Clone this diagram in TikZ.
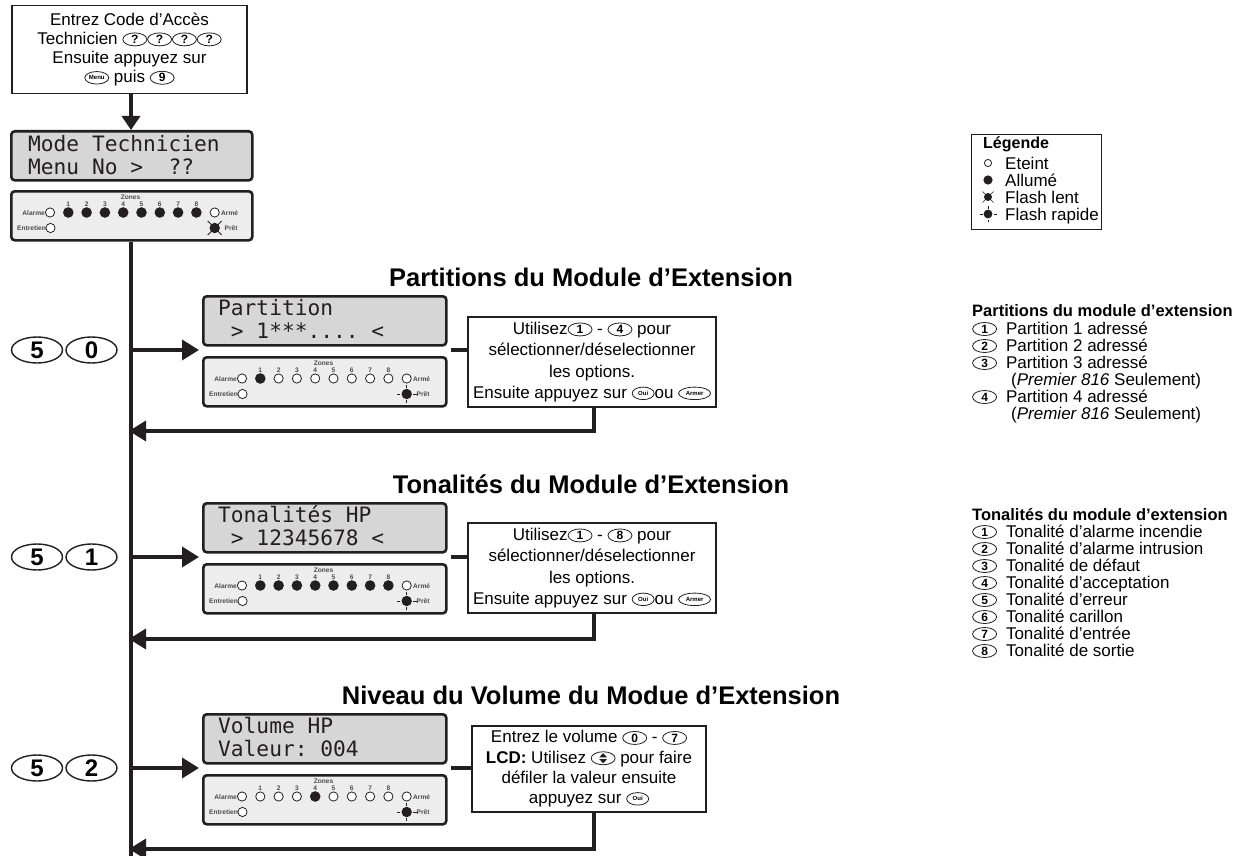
\documentclass[tikz,border=0pt]{standalone}
\usepackage{fontspec}
\setmainfont{Liberation Sans}
\newfontfamily\lcdfont{DejaVu Sans Mono}
\usetikzlibrary{arrows.meta,shapes.geometric,calc}
\definecolor{lcdgray}{HTML}{D6D6D6}
\definecolor{panelgray}{HTML}{EDEDED}
\definecolor{ink}{HTML}{231F20}
\newcommand{\fs}[2]{\fontsize{#1}{#2}\selectfont}
\newcommand{\kd}[1]{\tikz[baseline=-5pt]\node[anchor=center,draw=ink,line width=0.8pt,ellipse,minimum width=24pt,minimum height=13pt,inner sep=0pt,font=\fs{12}{12}\bfseries]{#1};}
\newcommand{\kt}[2]{\tikz[baseline=-5pt]\node[anchor=center,draw=ink,line width=0.8pt,ellipse,minimum width=#1,minimum height=12.5pt,inner sep=0pt,font=\fs{6}{6}\bfseries]{#2};}
\newcommand{\kud}{\tikz[baseline=-5pt]{\draw[ink,line width=0.8pt] (0,0) ellipse (12pt and 6.5pt);
  \fill[ink] (-4pt,0.8pt)--(4pt,0.8pt)--(0,5pt)--cycle; \fill[ink] (-4pt,-0.8pt)--(4pt,-0.8pt)--(0,-5pt)--cycle;}}
\newcommand{\flashlent}[2]{\fill[ink] (#1,#2) circle (5.2pt);
  \draw[ink,line width=0.8pt] (#1,#2) ++(-7pt,-7pt) -- ++(14pt,14pt) (#1,#2) ++(-7pt,7pt) -- ++(14pt,-14pt);}
\newcommand{\flashrap}[2]{\fill[ink] (#1,#2) circle (5.2pt);
  \draw[ink,line width=0.8pt] (#1,#2) ++(6.3pt,0) -- ++(3.5pt,0) (#1,#2) ++(-6.3pt,0) -- ++(-3.5pt,0)
   (#1,#2) ++(0,6.3pt) -- ++(0,3pt) (#1,#2) ++(0,-6.3pt) -- ++(0,-3pt);}
\newcommand{\ledpanel}[6]{%
  \node[panel,minimum width=#4pt,anchor=north west] (#1) at (#2,#3) {};
  \begin{scope}[shift={(#2,#3)}]
    \node[ledlbl] at (#4/2,7) {Zones};
    \node[ledlbl,anchor=east] at (35,23) {Alarme};
    \draw[ledoff] (40,22.5) circle (4.6pt);
    \foreach \i/\s in {#5}{%
      \node[ledlbl] at (40+18.3*\i,14) {\i};
      \ifnum\s=1 \fill[ink] (40+18.3*\i,22.5) circle (5.3pt);
      \else \draw[ledoff] (40+18.3*\i,22.5) circle (4.6pt);\fi
    }
    \draw[ledoff] (204.7,22.5) circle (4.6pt);
    \node[ledlbl,anchor=west] at (211,23) {Armé};
    \node[ledlbl,anchor=east] at (36,38.5) {Entretien};
    \draw[ledoff] (40.5,38) circle (4.6pt);
    #6{204.7}{38}
    \node[ledlbl,anchor=west] at (214.5,38.5) {Prêt};
  \end{scope}}
\begin{document}
\begin{tikzpicture}[x=1pt,y=-1pt,
  box/.style={draw=ink,line width=1.2pt,rectangle,inner sep=0pt,align=center,font=\fs{17}{21.3}},
  lcd/.style={draw=ink,line width=2.6pt,rounded corners=3.5pt,fill=lcdgray,minimum height=49pt,inner sep=0pt,anchor=north west},
  panel/.style={draw=ink,line width=2.6pt,rounded corners=3.5pt,fill=panelgray,minimum height=49pt,inner sep=0pt},
  lcdtxt/.style={font=\lcdfont\fs{21.2}{21},anchor=base west,inner sep=0pt,text=ink},
  ledlbl/.style={font=\fs{6.6}{7}\bfseries,text=black!70,inner sep=0pt},
  ledoff/.style={draw=ink,line width=0.8pt,fill=white},
  bigkey/.style={draw=ink,line width=1.4pt,ellipse,minimum width=51pt,minimum height=26pt,inner sep=0pt,font=\fs{24}{24}\bfseries},
  title/.style={font=\fs{25.5}{28}\bfseries,inner sep=0pt},
  fatline/.style={draw=ink,line width=3.6pt},
  arr/.style={fatline,-{Triangle[length=17pt,width=20pt]}},
  rtxt/.style={font=\fs{17}{17},anchor=base west,inner sep=0pt},
]
\fill[white] (0,0) rectangle (1242,856);
\useasboundingbox (0,0) rectangle (1242,856);
\coordinate (mx) at (131,0);

% top
\node[box,minimum width=235pt,minimum height=88pt,font=\fs{17}{19.2}] (top) at (129.5,49.5)
  {Entrez Code d’Accès\\Technicien \kd{?}\kd{?}\kd{?}\kd{?}\\Ensuite appuyez sur\\\kt{24pt}{Menu} puis \kd{9}};
\node[lcd,minimum width=241pt] (lcd0) at (10,130) {};
\node[lcdtxt] (l0a) at (28,152) {Mode~Technicien};
\node[lcdtxt] (l0b) at (28,174) {Menu~No~>~~??};
\ledpanel{led0}{10}{190}{241}{1/1,2/1,3/1,4/1,5/1,6/1,7/1,8/1}{\flashlent}
\draw[fatline,-{Triangle[length=14pt,width=18pt]}] (top.south -| mx) -- (lcd0.north -| mx);
\draw[fatline] (led0.south -| mx) -- (131,856);

% section 1
\node[title] (t1) at (591,277) {Partitions du Module d’Extension};
\node[lcd,minimum width=243pt] (lcd1) at (202,295) {};
\node[lcdtxt] (l1a) at (218,315) {Partition};
\node[lcdtxt] (l1b) at (218,338) {~>~1***....~<};
\ledpanel{led1}{202}{356}{243}{1/1,2/0,3/0,4/0,5/0,6/0,7/0,8/0}{\flashrap}
\node[bigkey] (k1a) at (37,350) {5};
\node[bigkey] (k1b) at (91.5,350) {0};
\coordinate (s1) at (131,350);
\draw[arr,shorten >=3pt] (s1) -- (s1 -| lcd1.west);
\node[box,minimum width=248pt,minimum height=90pt] (b1) at (592,362)
  {Utilisez\kd{1} - \kd{4} pour\\sélectionner/déselectionner\\les options.\\Ensuite appuyez sur \kt{22pt}{Oui}ou \kt{32pt}{Armer}};
\draw[fatline] ([xshift=3pt]lcd1.east |- s1) -- (b1.west |- s1);
\coordinate (r1) at (594,431);
\draw[arr,shorten >=-2pt] (b1.south -| r1) -- (r1) -- (r1 -| mx);

% section 2
\node[title] (t2) at (591,484) {Tonalités du Module d’Extension};
\node[lcd,minimum width=243pt] (lcd2) at (202,502) {};
\node[lcdtxt] (l2a) at (218,522) {Tonalités~HP};
\node[lcdtxt] (l2b) at (218,545) {~>~12345678~<};
\ledpanel{led2}{202}{563}{243}{1/1,2/1,3/1,4/1,5/1,6/1,7/1,8/1}{\flashrap}
\node[bigkey] (k2a) at (37,557) {5};
\node[bigkey] (k2b) at (91.5,557) {1};
\coordinate (s2) at (131,557);
\draw[arr,shorten >=3pt] (s2) -- (s2 -| lcd2.west);
\node[box,minimum width=248pt,minimum height=90pt] (b2) at (592,568)
  {Utilisez\kd{1} - \kd{8} pour\\sélectionner/déselectionner\\les options.\\Ensuite appuyez sur \kt{22pt}{Oui}ou \kt{32pt}{Armer}};
\draw[fatline] ([xshift=3pt]lcd2.east |- s2) -- (b2.west |- s2);
\coordinate (r2) at (594,639);
\draw[arr,shorten >=-2pt] (b2.south -| r2) -- (r2) -- (r2 -| mx);

% section 3
\node[title] (t3) at (591,695) {Niveau du Volume du Modue d’Extension};
\node[lcd,minimum width=243pt] (lcd3) at (202,713) {};
\node[lcdtxt] (l3a) at (218,733) {Volume~HP};
\node[lcdtxt] (l3b) at (218,756) {Valeur:~004};
\ledpanel{led3}{202}{774}{243}{1/0,2/0,3/0,4/1,5/0,6/0,7/0,8/0}{\flashrap}
\node[bigkey] (k3a) at (37,768) {5};
\node[bigkey] (k3b) at (91.5,768) {2};
\coordinate (s3) at (131,768);
\draw[arr,shorten >=3pt] (s3) -- (s3 -| lcd3.west);
\node[box,minimum width=234pt,minimum height=86pt,font=\fs{17}{20.3}] (b3) at (589,769)
  {Entrez le volume \kd{0} - \kd{7}\\\textbf{LCD:} Utilisez \kud{} pour faire\\défiler la valeur ensuite\\appuyez sur \kt{22pt}{Oui}};
\draw[fatline] ([xshift=3pt]lcd3.east |- s3) -- (b3.west |- s3);
\coordinate (r3) at (594,849);
\draw[arr,shorten >=-2pt] (b3.south -| r3) -- (r3) -- (r3 -| mx);

% legend
\node[draw=ink,line width=1.2pt,minimum width=130pt,minimum height=95pt,inner sep=0pt,anchor=north west] (leg) at (971,134) {};
\node[rtxt,font=\fs{16}{16}\bfseries] (legt) at (983,149) {Légende};
\draw[ink,line width=0.8pt] (988,163) circle (3.6pt);
\node[rtxt] (lg1) at (1005,169) {Eteint};
\fill[ink] (988,180) circle (4.6pt);
\node[rtxt] (lg2) at (1005,186) {Allumé};
\fill[ink] (988,197) circle (4pt);
\draw[ink,line width=0.6pt] (988,197) ++(-5.5pt,-5.5pt) -- ++(11pt,11pt) (988,197) ++(-5.5pt,5.5pt) -- ++(11pt,-11pt);
\node[rtxt] (lg3) at (1005,203) {Flash lent};
\fill[ink] (988,214) circle (4.4pt);
\draw[ink,line width=0.7pt] (988,214) ++(5.5pt,0) -- ++(3pt,0) (988,214) ++(-5.5pt,0) -- ++(-3pt,0)
   (988,214) ++(0,5.5pt) -- ++(0,2.5pt) (988,214) ++(0,-5.5pt) -- ++(0,-2.5pt);
\node[rtxt] (lg4) at (1005,220) {Flash rapide};

% right texts
\node[rtxt,font=\fs{16.5}{17}\bfseries] (rp) at (972,316) {Partitions du module d’extension};
\node[rtxt] (rp1) at (972,334) {\kd{1}\hspace{9pt}Partition 1 adressé};
\node[rtxt] (rp2) at (972,351) {\kd{2}\hspace{9pt}Partition 2 adressé};
\node[rtxt] (rp3) at (972,368) {\kd{3}\hspace{9pt}Partition 3 adressé};
\node[rtxt] (rp3b) at (1011,385) {(\textit{Premier 816} Seulement)};
\node[rtxt] (rp4) at (972,402) {\kd{4}\hspace{9pt}Partition 4 adressé};
\node[rtxt] (rp4b) at (1011,419) {(\textit{Premier 816} Seulement)};

\node[rtxt,font=\fs{16.5}{17}\bfseries] (rt) at (972,520) {Tonalités du module d’extension};
\node[rtxt] (rt1) at (972,537) {\kd{1}\hspace{9pt}Tonalité d’alarme incendie};
\node[rtxt] (rt2) at (972,554) {\kd{2}\hspace{9pt}Tonalité d’alarme intrusion};
\node[rtxt] (rt3) at (972,571) {\kd{3}\hspace{9pt}Tonalité de défaut};
\node[rtxt] (rt4) at (972,588) {\kd{4}\hspace{9pt}Tonalité d’acceptation};
\node[rtxt] (rt5) at (972,605) {\kd{5}\hspace{9pt}Tonalité d’erreur};
\node[rtxt] (rt6) at (972,622) {\kd{6}\hspace{9pt}Tonalité carillon};
\node[rtxt] (rt7) at (972,639) {\kd{7}\hspace{9pt}Tonalité d’entrée};
\node[rtxt] (rt8) at (972,656) {\kd{8}\hspace{9pt}Tonalité de sortie};
\end{tikzpicture}
\end{document}
